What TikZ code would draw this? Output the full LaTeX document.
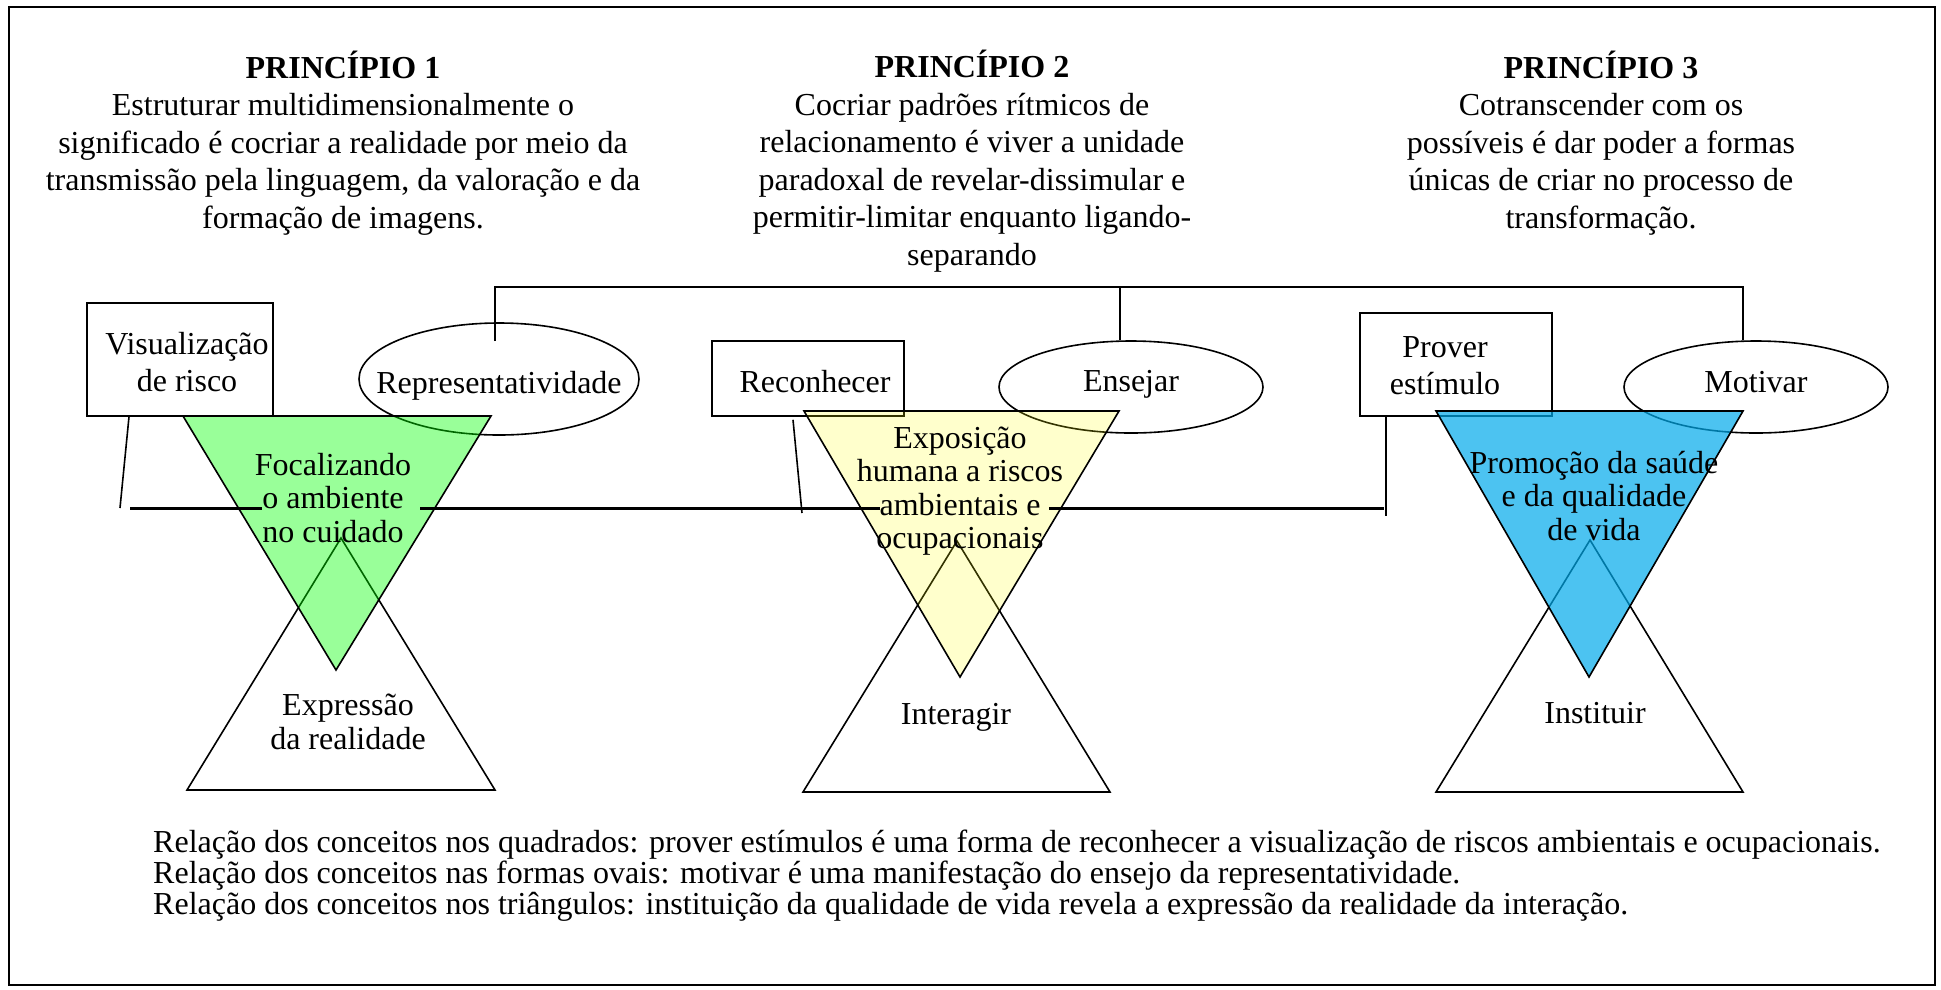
\documentclass[tikz,border=0pt]{standalone}
\usepackage{fontspec}
\setmainfont{Liberation Serif}
\usetikzlibrary{shapes.geometric}
\definecolor{gfill}{RGB}{0,255,0}
\definecolor{yfill}{RGB}{255,255,0}
\definecolor{bfill}{RGB}{0,170,235}
\tikzset{
  frame/.style={line width=2pt},
  conbox/.style={draw, line width=1.6pt, align=center, inner sep=0pt},
  oval/.style={ellipse, draw, line width=1.6pt, inner sep=0pt},
  txt/.style={align=center, inner sep=0pt, font=\fontsize{32}{37}\selectfont},
  title/.style={align=center, inner sep=0pt, font=\fontsize{32}{37.5}\selectfont},
  tritxt/.style={align=center, inner sep=0pt, font=\fontsize{32}{33.3}\selectfont},
  notes/.style={align=left, inner sep=0pt, font=\fontsize{32}{31}\selectfont},
  link/.style={line width=1.6pt},
  bar/.style={line width=2.2pt},
  tri/.style={line width=1.6pt},
}
\begin{document}
\begin{tikzpicture}[x=1pt,y=-1pt, every node/.style={font=\fontsize{32}{37.5}\selectfont}]
\useasboundingbox (0,0) rectangle (1941,989);
\draw[frame] (9,7) rectangle (1935,985);

% titles
\node[title] (p1) at (343,143) {{\bfseries PRINCÍPIO 1}\\Estruturar multidimensionalmente o\\significado é cocriar a realidade por meio da\\transmissão pela linguagem, da valoração e da\\formação de imagens.};
\node[title] (p2) at (972,161) {{\bfseries PRINCÍPIO 2}\\Cocriar padrões rítmicos de\\relacionamento é viver a unidade\\paradoxal de revelar-dissimular e\\permitir-limitar enquanto ligando-\\separando};
\node[title] (p3) at (1601,143) {{\bfseries PRINCÍPIO 3}\\Cotranscender com os\\possíveis é dar poder a formas\\únicas de criar no processo de\\transformação.};

% boxes
\node[conbox, minimum width=186pt, minimum height=113pt, label={[txt, xshift=7pt, yshift=-3pt]center:Visualização\\de risco}] (vis) at (180,359.5) {};
\node[conbox, minimum width=192pt, minimum height=75pt, label={[txt, xshift=7pt, yshift=-3pt]center:Reconhecer}] (rec) at (808,378.5) {};
\node[conbox, minimum width=192pt, minimum height=103pt, label={[txt, xshift=-11pt, yshift=-1pt]center:Prover\\estímulo}] (prov) at (1456,364.5) {};

% ovals
\node[oval, minimum width=280pt, minimum height=112pt, label={[txt, yshift=-7pt]center:Representatividade}] (rep) at (499,379) {};
\node[oval, minimum width=264pt, minimum height=92pt, label={[txt, yshift=2.5pt]center:Ensejar}] (ens) at (1131,387) {};
\node[oval, minimum width=264pt, minimum height=92pt, label={[txt, yshift=5pt]center:Motivar}] (mot) at (1756,387) {};

% top connector
\coordinate (topL) at (495,287);
\coordinate (topR) at (1743,287);
\draw[link] ([xshift=-4pt,yshift=38pt]rep.center) -- (topL) -- (topR) -- (mot.north -| topR);
\draw[link] ([xshift=-11pt]ens.north) -- ([xshift=-11pt]ens.north |- topL);

% white triangles
\draw[tri] (341,538) -- (187,790) -- (495,790) -- cycle;
\draw[tri] (957,541) -- (803,792) -- (1110,792) -- cycle;
\draw[tri] (1590,540) -- (1436,792) -- (1743,792) -- cycle;

% coloured triangles
\filldraw[tri, fill=gfill, fill opacity=0.4] (183,416) -- (491,416) -- (336,670) -- cycle;
\filldraw[tri, fill=yfill, fill opacity=0.2] (804,411) -- (1119,411) -- (960,677) -- cycle;
\filldraw[tri, fill=bfill, fill opacity=0.7] (1436,411) -- (1743,411) -- (1589,677) -- cycle;

% lower connector
\coordinate (visEnd) at (120,508);
\coordinate (recEnd) at (802,513);
\coordinate (provEnd) at (1386,516);
\draw[link] ([xshift=-51pt]vis.south) -- (visEnd);
\draw[link] ([xshift=-15pt,yshift=-3pt]rec.south) -- (recEnd);
\draw[link] ([xshift=-70pt]prov.south) -- (provEnd);
\coordinate (h0) at (130,508.5);
\coordinate (h1) at (262,508.5);
\coordinate (h2) at (420,508.5);
\coordinate (h3) at (880,508.5);
\coordinate (h4) at (1049,508.5);
\coordinate (h5) at (1384,508.5);
\draw[bar] (h0) -- (h1);
\draw[bar] (h2) -- (h3);
\draw[bar] (h4) -- (h5);

% triangle texts
\node[tritxt] (t1) at (333,498) {Focalizando\\o ambiente\\no cuidado};
\node[tritxt] (t2) at (960,491) {Exposição\\humana a riscos\\ambientais e\\ocupacionais};
\node[tritxt] (t3) at (1594,496) {Promoção da saúde\\e da qualidade\\de vida};
\node[tritxt] (w1) at (348,722) {Expressão\\da realidade};
\node[tritxt] (w2) at (956,717) {Interagir};
\node[tritxt] (w3) at (1595,713) {Instituir};

% notes
\node[notes, anchor=west] (notes) at (153,875.5) {Relação dos conceitos nos quadrados: prover estímulos é uma forma de reconhecer a visualização de riscos ambientais e ocupacionais.\\Relação dos conceitos nas formas ovais: motivar é uma manifestação do ensejo da representatividade.\\Relação dos conceitos nos triângulos: instituição da qualidade de vida revela a expressão da realidade da interação.};
\end{tikzpicture}
\end{document}
